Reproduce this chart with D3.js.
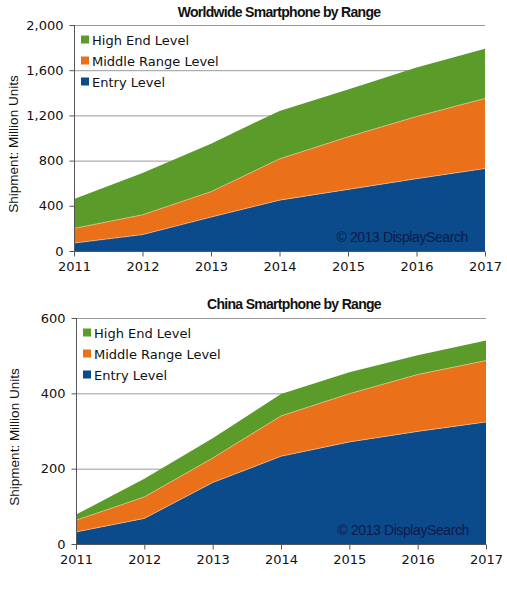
<!DOCTYPE html>
<html><head><meta charset="utf-8">
<script src="https://cdn.jsdelivr.net/npm/d3@7/dist/d3.min.js"></script>
<style>body{margin:0;background:#fff}svg{display:block}</style>
</head><body><svg id="c" width="507" height="600"></svg>
<script>
const years = [2011, 2012, 2013, 2014, 2015, 2016, 2017];
const seriesNames = ["Entry Level", "Middle Range Level", "High End Level"];
const legendOrder = ["High End Level", "Middle Range Level", "Entry Level"];
const wwEntry = [70, 145, 300, 450, 545, 640, 730];
const wwMiddle = [130, 175, 225, 365, 465, 550, 620];
const wwHigh = [260, 370, 425, 425, 420, 435, 440];
const wwTicks = [0, 400, 800, 1200, 1600, 2000];
const cnEntry = [32, 68, 163, 233, 271, 299, 324];
const cnMiddle = [31, 57, 65, 107, 128, 151, 163];
const cnHigh = [15, 48, 53, 58, 57, 51, 53];
const cnTicks = [0, 200, 400, 600];
const colors = {"Entry Level": "#0b4a8b", "Middle Range Level": "#ea7119", "High End Level": "#5a9b2a"};

const svg = d3.select("#c");

function drawChart(cfg) {
  const g = svg.append("g");
  const x = d3.scaleLinear().domain([years[0], years[years.length - 1]]).range([cfg.x0, cfg.x1]);
  const y = d3.scaleLinear().domain([0, cfg.ticks[cfg.ticks.length - 1]]).range([cfg.y0, cfg.y1]);
  const rows = years.map((yr, i) => ({year: yr, "Entry Level": cfg.entry[i], "Middle Range Level": cfg.middle[i], "High End Level": cfg.high[i]}));
  const stack = d3.stack().keys(seriesNames)(rows);

  // gridlines
  g.append("g").selectAll("line").data(cfg.ticks.filter(t => t > 0)).join("line")
    .attr("x1", cfg.x0).attr("x2", cfg.x1)
    .attr("y1", d => y(d) + 0.5).attr("y2", d => y(d) + 0.5)
    .attr("stroke", "#9a9a9a").attr("stroke-width", 1);

  const area = d3.area().x(d => x(d.data.year)).y0(d => y(d[0])).y1(d => y(d[1]));
  const line = d3.line().x(d => x(d.data.year)).y(d => y(d[1]));
  g.append("g").selectAll("path").data(stack).join("path")
    .attr("d", area).attr("fill", d => colors[d.key]);
  g.append("g").selectAll("path").data(stack.slice(0, 2)).join("path")
    .attr("d", line).attr("fill", "none").attr("stroke", "#f3c9a0").attr("stroke-width", 0.8).attr("opacity", 0.8);

  // y axis
  const ya = g.append("g").attr("transform", `translate(${cfg.x0 + 0.5},0)`)
    .call(d3.axisLeft(y).tickValues(cfg.ticks).tickFormat(d3.format(",")).tickSize(5).tickPadding(6));
  ya.select(".domain").attr("stroke", "#555").attr("d", `M0,${cfg.y0}V${cfg.y1}`);
  ya.selectAll(".tick line").attr("stroke", "#555");
  ya.selectAll("text").attr("font-family", "DejaVu Sans, Verdana, sans-serif").attr("font-size", 13).attr("fill", "#111");

  // x axis
  const xa = g.append("g").attr("transform", `translate(0,${cfg.y0 + 0.5})`)
    .call(d3.axisBottom(x).tickValues(years).tickFormat(d3.format("d")).tickSize(5).tickPadding(5));
  xa.select(".domain").attr("stroke", "#555").attr("d", `M${cfg.x0},0H${cfg.x1}`);
  xa.selectAll(".tick line").attr("stroke", "#555");
  xa.selectAll("text").attr("font-family", "DejaVu Sans, Verdana, sans-serif").attr("font-size", 13).attr("fill", "#111");

  // title
  g.append("text").attr("x", cfg.titleX).attr("y", cfg.titleY).attr("text-anchor", "middle")
    .attr("font-family", "Liberation Sans, Arial, sans-serif").attr("font-weight", "bold")
    .attr("font-size", 14).attr("letter-spacing", -0.7).attr("fill", "#111").text(cfg.title);

  // y label
  g.append("text").attr("transform", `translate(${cfg.ylabX},${(cfg.y0 + cfg.y1) / 2 + cfg.ylabDy}) rotate(-90)`)
    .attr("text-anchor", "middle").attr("font-family", "Liberation Sans, Arial, sans-serif")
    .attr("font-size", 13.5).attr("fill", "#111").text("Shipment: Million Units");

  // legend
  const lg = g.append("g").selectAll("g").data(legendOrder).join("g")
    .attr("transform", (d, i) => `translate(${cfg.x0 + 7},${cfg.y1 + 15 + i * 21})`);
  lg.append("rect").attr("x", 0).attr("y", -4.5).attr("width", 8).attr("height", 8).attr("fill", d => colors[d]);
  lg.append("text").attr("x", 11).attr("y", 4.5).attr("font-family", "DejaVu Sans, Verdana, sans-serif")
    .attr("font-size", 13).attr("fill", "#111").text(d => d);

  // copyright
  g.append("text").attr("x", cfg.x1 - 17).attr("y", cfg.y0 - 9).attr("text-anchor", "end")
    .attr("font-family", "Liberation Sans, Arial, sans-serif").attr("font-size", 14)
    .attr("letter-spacing", -0.4).attr("fill", "#101a48").text("\u00a9 2013 DisplaySearch");
}

drawChart({title: "Worldwide Smartphone by Range", entry: wwEntry, middle: wwMiddle, high: wwHigh, ticks: wwTicks,
  x0: 74, x1: 485, y0: 251, y1: 25, titleX: 279, titleY: 17, ylabX: 18, ylabDy: 6});
drawChart({title: "China Smartphone by Range", entry: cnEntry, middle: cnMiddle, high: cnHigh, ticks: cnTicks,
  x0: 76, x1: 486, y0: 544, y1: 318, titleX: 294, titleY: 309, ylabX: 19, ylabDy: 6});
</script></body></html>
